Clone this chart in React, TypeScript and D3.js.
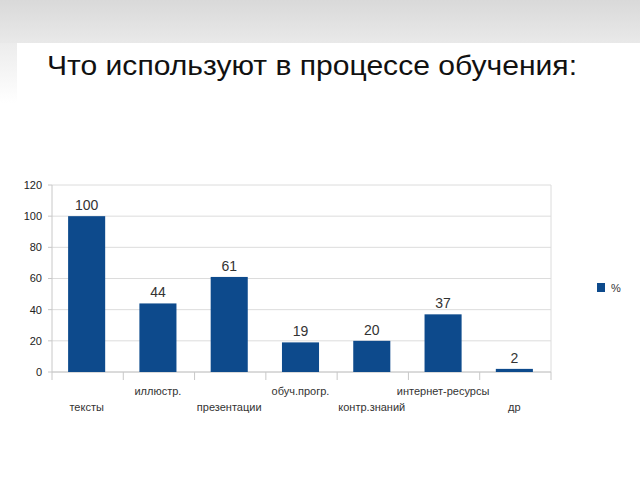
import React from "react";
import * as d3 from "d3";

const categories = ["тексты", "иллюстр.", "презентации", "обуч.прогр.", "контр.знаний", "интернет-ресурсы", "др"];
const values = [100, 44, 61, 19, 20, 37, 2];
const yTicks = [0, 20, 40, 60, 80, 100, 120];
const seriesName = "%";
const title = "Что используют в процессе обучения:";

const W = 640, H = 480;
const plot = { left: 52, right: 551, top: 185, bottom: 372 };
const barColor = "#0d4a8c";
const font = "'Liberation Sans', Arial, sans-serif";

export default function App() {
  const x = d3.scaleBand<string>().domain(categories).range([plot.left, plot.right]).paddingInner(0).paddingOuter(0);
  const y = d3.scaleLinear().domain([0, 120]).range([plot.bottom, plot.top]);
  const bw = x.bandwidth() * 0.52;
  return (
    <svg width={W} height={H} style={{ position: "absolute", left: 0, top: 0, display: "block" }} fontFamily={font}>
      <defs>
        <linearGradient id="topg" x1="0" y1="0" x2="0" y2="1">
          <stop offset="0" stopColor="#d9d9d9" />
          <stop offset="1" stopColor="#e9e9e9" />
        </linearGradient>
        <linearGradient id="leftg" x1="0" y1="0" x2="0" y2="1">
          <stop offset="0" stopColor="#ececec" />
          <stop offset="1" stopColor="#ffffff" />
        </linearGradient>
      </defs>
      <rect x={0} y={0} width={W} height={H} fill="#ffffff" />
      <rect x={0} y={0} width={W} height={43} fill="url(#topg)" />
      <rect x={0} y={43} width={17} height={60} fill="url(#leftg)" />
      <text x={47} y={75} fontSize={28} fill="#111" fontFamily={font} textLength={530} lengthAdjust="spacingAndGlyphs">{title}</text>

      {yTicks.map((t) => (
        <g key={t}>
          <line x1={plot.left} x2={plot.right} y1={y(t)} y2={y(t)} stroke="#dcdcdc" strokeWidth={1} />
          <line x1={plot.left - 4} x2={plot.left} y1={y(t)} y2={y(t)} stroke="#c8c8c8" />
          <text x={plot.left - 10} y={y(t)} dy="0.35em" textAnchor="end" fontSize={11} fill="#222">{t}</text>
        </g>
      ))}
      <line x1={plot.left} x2={plot.left} y1={plot.top} y2={plot.bottom} stroke="#c8c8c8" />
      <line x1={plot.right} x2={plot.right} y1={plot.top} y2={plot.bottom} stroke="#dcdcdc" />
      <line x1={plot.left} x2={plot.right} y1={plot.bottom} y2={plot.bottom} stroke="#c8c8c8" />
      {categories.map((c, i) => (
        <line key={"t" + i} x1={x(c)!} x2={x(c)!} y1={plot.bottom} y2={plot.bottom + 8} stroke="#c8c8c8" />
      ))}
      <line x1={plot.right} x2={plot.right} y1={plot.bottom} y2={plot.bottom + 8} stroke="#c8c8c8" />

      {categories.map((c, i) => {
        const cx = x(c)! + x.bandwidth() / 2;
        return (
          <g key={c}>
            <rect x={cx - bw / 2 - 1} y={y(values[i])} width={bw} height={plot.bottom - y(values[i])} fill={barColor} />
            <text x={cx - 1} y={y(values[i]) - 6} textAnchor="middle" fontSize={14} fill="#333">{values[i]}</text>
            <text x={cx - 1} y={i % 2 === 0 ? 411 : 395} textAnchor="middle" fontSize={11} fill="#333">{c}</text>
          </g>
        );
      })}

      <rect x={597} y={283} width={8} height={9} fill={barColor} />
      <text x={611} y={292} fontSize={11} fill="#333">{seriesName}</text>
    </svg>
  );
}
